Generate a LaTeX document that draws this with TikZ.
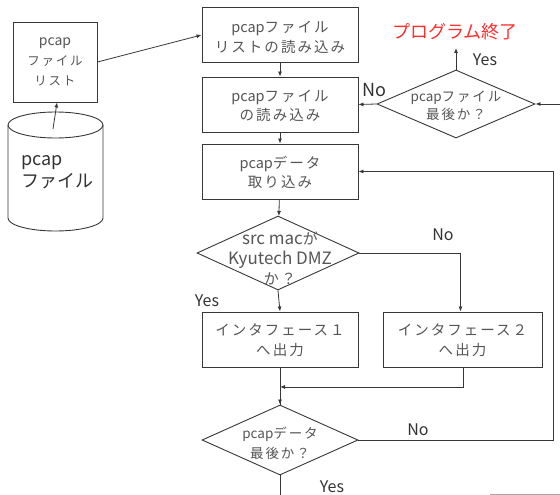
\documentclass[tikz,border=0pt]{standalone}
\usepackage{fontspec}
\setmainfont{Noto Sans CJK JP}
\newfontfamily\jw[LetterSpace=14]{Noto Sans CJK JP}
\usetikzlibrary{shapes.geometric,arrows.meta,calc}
\definecolor{txt}{RGB}{85,85,85}
\definecolor{lab}{RGB}{50,50,50}
\definecolor{ln}{RGB}{55,55,55}
\definecolor{redtxt}{RGB}{255,45,45}
\tikzset{
  box/.style={draw=ln, line width=0.9pt, rectangle, minimum width=156pt, minimum height=55pt, inner sep=0pt, align=center, text=txt, font=\fontsize{14.5}{20}\selectfont},
  dia/.style={draw=ln, line width=0.9pt, diamond, inner sep=0pt, aspect=2},
  dtext/.style={text=txt, align=center, inner sep=0pt},
  conn/.style={draw=ln, line width=0.8pt, -{Latex[length=5pt,width=4pt]}},
  plain/.style={draw=ln, line width=0.8pt},
  yn/.style={text=lab, inner sep=0pt, font=\fontsize{16}{18}\selectfont}
}
\begin{document}
\begin{tikzpicture}[x=1pt,y=-1pt]
\useasboundingbox (0,0) rectangle (560,495);
% left list box
\node[box, minimum width=84pt, minimum height=80pt, font=\fontsize{12.5}{20}\selectfont] (list) at (55,62) {{\fontsize{14}{20}\selectfont pcap}\\{\jw ファイル}\\{\jw リスト}};
% cylinder
\draw[ln, line width=0.9pt] (8,125) -- (8,218) arc[start angle=180, end angle=360, x radius=47.5, y radius=-13] -- (103,125);
\draw[ln, line width=0.9pt] (55.5,125) ellipse[x radius=47.5, y radius=13];
\node[text=lab, align=left, anchor=west, inner sep=0pt, font=\fontsize{18}{22}\selectfont] (dbtext) at (21,172) {pcap\\ファイル};
\coordinate (dbtop) at (53,129);
% main boxes
\node[box] (b1) at (280,35) {};
\node[dtext, font=\fontsize{14.5}{19.5}\selectfont] (b1t) at (280,37.5) {pcap{\jw ファイル}\\{\jw リストの読み込み}};
\node[box] (b2) at (280,104.5) {};
\node[dtext, font=\fontsize{14.5}{19.5}\selectfont] (b2t) at (280,106) {pcap{\jw ファイル}\\{\jw の読み込み}};
\node[box] (b3) at (280,171.5) {};
\node[dtext, font=\fontsize{14.5}{19.5}\selectfont] (b3t) at (280,172.5) {pcap{\jw データ}\\{\jw 取り込み}};
% decision 1
\node[dia, minimum width=162pt, minimum height=74pt] (d1) at (278,253) {};
\node[dtext, font=\fontsize{17}{20}\selectfont] (d1t) at (280,258) {src mac{\fontsize{15}{20}\selectfont\jw が}\\Kyutech DMZ\\{\fontsize{15}{20}\selectfont\jw か？}};
% output boxes
\node[box] (b4) at (280,339.5) {};
\node[dtext, font=\fontsize{14.5}{20}\selectfont] (b4t) at (280,340) {{\jw インタフェース１}\\{\jw へ出力}};
\node[box, minimum width=159pt] (b5) at (462.5,339.5) {};
\node[dtext, font=\fontsize{14.5}{20}\selectfont] (b5t) at (462.5,340) {{\jw インタフェース２}\\{\jw へ出力}};
% decision 2
\node[dia, minimum width=156pt, minimum height=70pt] (d2) at (280,440) {};
\node[dtext, font=\fontsize{13.5}{20}\selectfont] (d2t) at (280,443) {pcap{\jw データ}\\{\jw 最後か？}};
% decision 3
\node[dia, minimum width=158pt, minimum height=68pt] (d3) at (456,104) {};
\node[dtext, font=\fontsize{13.5}{18}\selectfont] (d3t) at (456,106) {pcap{\jw ファイル}\\{\jw 最後か？}};
% end text
\node[text=redtxt, inner sep=0pt, font=\fontsize{18}{20}\selectfont] (end) at (455,32) {プログラム終了};
% coordinates
\coordinate (endarrow) at (456,48);
\coordinate (rin) at (560,104);
\coordinate (merge) at (280,387);
\coordinate (bottom) at (280,495);
% connectors
\path[conn] (dbtop) -- ([xshift=2pt]list.south);
\path[conn] (list.east) -- (b1.west);
\path[conn] (b1) -- (b2);
\path[conn] (b2) -- (b3);
\path[conn] (b3) -- (d1);
\path[conn] (d1.south) -- (b4.north);
\path[conn] (d1.east) -| ([xshift=-2pt]b5.north);
\path[plain] (b4.south) -- (d2.north);
\path[conn] ([xshift=0.5pt]b5.south) |- (merge);
\path[conn] (merge) -- (d2.north);
\path[conn] (d2.east) -- (553,440) |- (b3.east);
\path[plain] (d2.south) -- (bottom);
\path[conn] (d3.west) -- (b2.east);
\path[conn] (d3.north) -- (endarrow);
\path[conn] (rin) -- (d3.east);
\draw[black!35, line width=0.8pt] (490,494) -- (560,494);
% labels
\node[yn] (y1) at (207,301) {Yes};
\node[yn] (n1) at (443,235) {No};
\node[yn] (n2) at (418,430) {No};
\node[yn] (y2) at (332,487) {Yes};
\node[yn, font=\fontsize{18}{20}\selectfont] (n3) at (374,90) {No};
\node[yn] (y3) at (485,60) {Yes};
\end{tikzpicture}
\end{document}
